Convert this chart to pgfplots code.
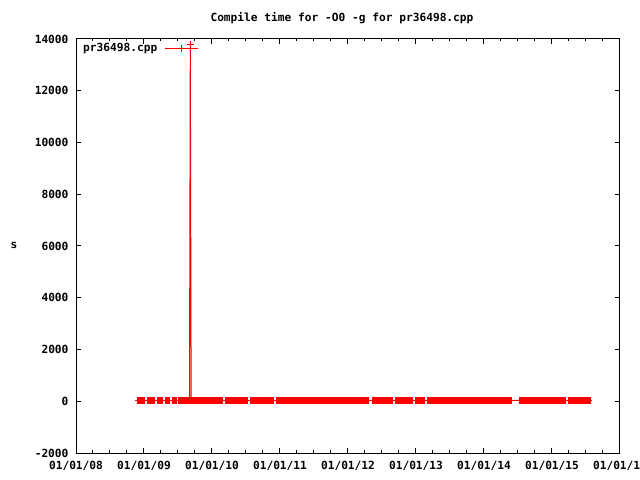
\documentclass[border=0pt]{standalone}
\usepackage{fontspec}
\setmainfont{DejaVu Sans Mono}
\usepackage{pgfplots}
\usepackage{pgfplotstable}
\pgfplotsset{compat=1.18}

\pgfplotstableread{
x y
2008.926 30
2008.985 31
2009.074 30
2009.132 32
2009.221 31
2009.250 30
2009.338 31
2009.353 32
2009.441 30
2009.456 31
2009.529 32
2009.588 30
2009.647 31
2009.669 30
2009.681 13770
2009.693 31
2009.750 30
2009.809 32
2009.868 31
2009.926 30
2009.985 31
2010.044 32
2010.103 31
2010.132 30
2010.221 31
2010.279 30
2010.338 32
2010.397 31
2010.456 30
2010.500 31
2010.588 32
2010.647 31
2010.706 30
2010.765 31
2010.824 32
2010.882 30
2010.971 31
2011.029 30
2011.088 31
2011.147 32
2011.206 31
2011.265 30
2011.324 31
2011.382 32
2011.441 30
2011.500 31
2011.559 30
2011.618 31
2011.676 32
2011.735 31
2011.794 30
2011.853 31
2011.912 32
2011.971 30
2012.029 31
2012.088 30
2012.147 31
2012.206 32
2012.265 31
2012.279 30
2012.382 31
2012.441 32
2012.500 30
2012.559 31
2012.618 30
2012.632 31
2012.721 32
2012.779 31
2012.838 30
2012.897 31
2012.926 32
2013.015 30
2013.074 31
2013.103 30
2013.191 31
2013.250 32
2013.309 31
2013.368 30
2013.426 31
2013.485 32
2013.544 30
2013.603 31
2013.662 30
2013.721 31
2013.779 32
2013.838 31
2013.897 30
2013.956 31
2014.015 32
2014.074 30
2014.132 31
2014.191 30
2014.250 31
2014.309 32
2014.368 31
2014.382 30
2014.544 31
2014.603 32
2014.662 30
2014.721 31
2014.779 30
2014.838 31
2014.897 32
2014.956 31
2015.015 30
2015.074 31
2015.132 32
2015.176 30
2015.265 31
2015.324 30
2015.382 31
2015.441 32
2015.500 31
2015.544 30
}\data

\pgfdeclareplotmark{gpblock}{%
  \pgfpathrectangle{\pgfqpoint{-2bp}{-3.5bp}}{\pgfqpoint{4bp}{7bp}}%
  \pgfusepathqfill}

\newcommand\gpfont{\bfseries\fontsize{11.2bp}{13bp}\selectfont}

\begin{document}
\begin{tikzpicture}
\useasboundingbox (0,0) rectangle (640bp,480bp);
\begin{axis}[
  at={(76bp,27bp)}, anchor=south west,
  scale only axis, width=544bp, height=414bp,
  xmin=2008, xmax=2016, ymin=-2000, ymax=14000,
  xtick={2008,2009,2010,2011,2012,2013,2014,2015,2016},
  xticklabels={01/01/08,01/01/09,01/01/10,01/01/11,01/01/12,01/01/13,01/01/14,01/01/15,01/01/16},
  minor x tick num=3,
  ytick={-2000,0,2000,4000,6000,8000,10000,12000,14000},
  scaled y ticks=false,
  /pgf/number format/1000 sep={},
  /pgf/number format/assume math mode=true,
  tick label style={font=\gpfont, black},
  yticklabel style={xshift=-4bp},
  xticklabel style={yshift=-5bp},
  tick align=inside,
  major tick length=5bp, minor tick length=2.5bp,
  axis line style={line width=1bp, black},
  every tick/.style={line width=1bp, black},
  legend style={draw=none, fill=none, at={(0,1)}, anchor=north west,
    xshift=6bp, yshift=-3bp, font=\gpfont, inner sep=0pt,
    column sep=6bp,
    nodes={inner sep=1bp}},
  legend plot pos=right,
  legend cell align=left,
  legend image code/.code={\draw[#1, mark repeat=2, mark phase=2] plot coordinates {(0bp,0bp) (16.5bp,0bp) (33bp,0bp)};},
]
\addplot[red, only marks, mark=gpblock, restrict y to domain=-1000:1000, forget plot] table {\data};
\addplot[red, line width=1bp, mark=+, mark size=3.5bp, mark options={line width=1bp, solid}] table {\data};
\addlegendentry{pr36498.cpp}
\end{axis}
\node[font=\gpfont] at (342bp,462bp) {Compile time for -O0 -g for pr36498.cpp};
\node[font=\gpfont] at (14bp,235bp) {s};
\end{tikzpicture}
\end{document}
